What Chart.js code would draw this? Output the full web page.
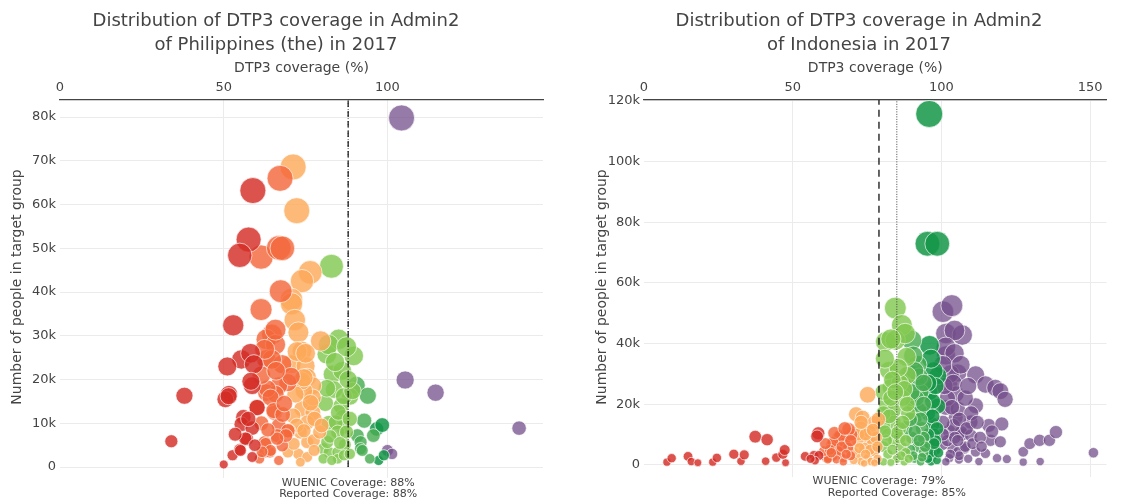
<!DOCTYPE html>
<html><head><meta charset="utf-8">
<script src="https://cdn.jsdelivr.net/npm/chart.js@4/dist/chart.umd.min.js"></script>
<style>
html,body{margin:0;padding:0;background:#fff;overflow:hidden}
#wrap{position:relative;width:1121px;height:501px}
.pane{position:absolute;top:0;height:501px}
</style></head><body>
<div id="wrap">
<div class="pane" style="left:0;width:560px"><canvas id="c1" width="560" height="501"></canvas></div>
<div class="pane" style="left:560px;width:561px"><canvas id="c2" width="561" height="501"></canvas></div>
</div>
<script>
// ---------- Philippines (the) : [coverage %, people in target group (thousands)] ----------
const phRed = [[58.9,63.2],[57.6,52],[54.9,48.4],[52.9,32.4],[55.4,24.6],[58.2,26],[59.2,23.5],[51.1,23],[58.7,18.6],[58.3,19.6],[51.6,16.7],[50.5,15.5],[38,16.3],[56,11.4],[55.4,9.8],[58.7,8.9],[57.1,6.4],[34,5.9],[50,0.6],[52.7,2.7],[54.9,4],[58.7,2.3],[60.2,13.6],[56.6,6.5],[55.1,3.8],[51.5,16.2],[53.5,7.5],[57.5,11],[59.5,5]];
const phOrangeRed = [[67.2,66],[61.4,48],[66.8,50.1],[67.9,50],[67.4,40.2],[61.4,36],[64.7,30.3],[63,29.2],[65.8,28],[63,24.6],[67.9,23.5],[69.6,19.3],[66.8,18.6],[63,17],[65.8,16.7],[60.1,13.6],[65.5,12.5],[66.8,9.5],[69.6,8.3],[62.5,5.7],[66.3,7.2],[62.5,3.4],[60.9,1.9],[66.8,1.5],[64.1,3.4],[67.9,4.9],[69,7.2],[64.7,24.6],[62.5,26.9],[65.8,31.4],[63.3,17.9],[64.3,15.9],[65.3,12.9],[62.8,5.3],[66.3,6.5],[64.3,3.8],[61.7,3.5],[70.6,20.7],[68,12],[61.5,10],[63.5,8.5],[68.5,14.5],[61.5,21],[66,22]];
const phLightOrange = [[71.2,68.6],[72.3,58.6],[76.4,44.5],[73.9,42.5],[70.7,38.3],[70.7,37.3],[71.7,33.6],[72.8,30.8],[79.6,28.8],[73.9,26.5],[70.7,23.5],[75,23.1],[75.5,20.5],[77.2,18.6],[73.9,13.3],[71.2,11.7],[77.2,12.5],[75.5,10.2],[73.4,8],[75.5,5.7],[77.5,6.1],[72.8,3],[75.5,2.3],[73.4,1.1],[69.6,3.4],[72.3,9.5],[74.5,8.3],[79.3,8],[77.7,11],[79.9,9.5],[77.2,15.9],[74.5,17.4],[73.9,19.7],[72.4,26.4],[74.5,20.4],[71.9,16.6],[76.5,14.7],[71.4,5.3],[77.6,3.8],[69.9,8.3],[75,26]];
const phLightGreen = [[82.9,45.9],[85.1,29.2],[81.5,25.8],[89.7,25.4],[83.2,21.2],[86.2,22],[88.6,16.1],[81,14.6],[85.9,14],[86.4,11.4],[82.1,10.1],[86.4,9.1],[80.4,4.2],[82.1,3.4],[84.8,3.4],[80.4,1.9],[84.8,1.9],[87,5.1],[84.2,10.2],[84.8,8],[83.7,17.7],[86.7,16.2],[81.6,5.7],[86.7,2.7],[89.3,17.4],[82,28],[87.5,27.5],[84,24],[88,20],[81.5,18],[85,12.5],[88.5,11],[87.5,8],[82.5,7],[83,1.5],[85.5,5.5],[88.5,3]];
const phGreen = [[90.5,18.7],[94,16.3],[90.8,7.2],[91.8,5.7],[92.9,10.6],[91.8,4.2],[94.6,1.9],[95.7,7.2],[92.3,3.8]];
const phDarkGreen = [[96.7,8.7],[98.4,9.6],[97.3,1.5],[98.9,2.7]];
const phPurple = [[104.3,79.8],[105.4,19.9],[114.7,17],[140.2,8.9],[100,3.8],[101.4,3]];
const phWuenic = 88, phReported = 88;
const phTitle = ['Distribution of DTP3 coverage in Admin2', 'of Philippines (the) in 2017'];
const phXTicks = [0, 50, 100];
const phYTicks = [0, 10, 20, 30, 40, 50, 60, 70, 80];
const phYTickLabels = ['0', '10k', '20k', '30k', '40k', '50k', '60k', '70k', '80k'];

// ---------- Indonesia ----------
const idRed = [[7.7,0.9],[9.3,2.2],[14.8,2.8],[15.9,1.1],[18.1,0.7],[23.1,0.9],[24.5,2.3],[30.2,3.5],[32.6,1.2],[33.7,3.3],[37.4,9.3],[41.4,8.3],[40.9,1.2],[44.5,2.4],[46.7,3.5],[47.3,4.9],[47.6,0.7],[54.2,2.8],[57.1,3.1],[58.6,10.4],[58.2,9.4],[58.8,3.1],[57.5,1.4],[56,2]];
const idOrangeRed = [[61.2,2.3],[63.1,6.7],[65.3,8.9],[67.5,7.2],[68.6,5.6],[65.8,4.4],[63.6,2.8],[69.7,10],[62,2.2],[66.9,2.2],[65.9,9.5],[63.5,7.3],[68.8,11.7],[65.3,4.5],[64.7,1.8],[61.8,1.8],[67,1],[69.5,3],[60.5,4.5],[62.5,5],[64,10.5],[66.5,6],[68,3.5],[63,4],[61,7],[67.5,12],[69.5,8]];
const idLightOrange = [[75.2,23.1],[71.3,16.7],[73.5,15.6],[77.4,13.9],[73,12.2],[75.2,8.9],[71.9,7.8],[76.8,7.2],[74.1,5.6],[77.4,4.4],[71.9,3.3],[75.2,2.2],[73,1.1],[76.3,1.1],[70.2,4.4],[78.8,15],[75.9,11],[78,9],[70.5,10.5],[74,0.5],[78.5,2],[72,10],[74.5,10],[77,11.5],[76,5],[72.5,5.5],[78.5,6],[70.5,1.5],[77.5,0.7],[74.5,3.5],[73,14]];
const idLightGreen = [[84.5,51.7],[86.7,46.1],[81.2,40.6],[84.5,41.1],[87.8,43.3],[83,41.5],[88.3,35.6],[82.3,31.1],[88.5,29.5],[82.9,25.5],[86,27],[81.5,20],[84,18],[87,22],[88.8,17],[84,14],[80.5,13],[86,12],[82,10],[84,8],[80.5,6],[86.5,6],[88,4],[82,3.5],[85,2],[80.5,1],[87.5,1],[83,0.8],[85.5,32],[80.5,24],[86,9],[81,35],[83.5,28],[87.5,25],[80.5,17],[83,22],[85,10.5],[88,8],[81.5,8],[83.5,5],[86.5,3],[89,2],[81,11],[84.5,24],[87,14],[82.5,16],[88.5,20]];
const idGreen = [[90,41.1],[89.5,30],[91.5,27],[93,24],[90.5,20],[92.5,18],[91,15],[93.5,12],[90,9],[92,6],[94,4],[91,2],[93,1],[89.5,5],[94,9],[91.5,22],[88,12],[92,33],[90.5,36],[92.5,29],[94,20],[90,24],[93,15],[91,11],[94.5,6],[90.5,3],[92.5,8],[89.5,15],[93.5,2.5],[91,31],[94,27]];
const idDarkGreen = [[95.9,115.7],[95.3,72.9],[98.6,72.9],[96,39.4],[98.8,29.4],[97.5,31],[98.8,19.4],[97.1,13.3],[97.5,10],[96,7],[98,5],[97,3],[96.5,1],[98.5,1.5],[96,24],[95.5,17],[97,21],[98,8],[96.5,35],[98,26],[95.5,27],[97,16],[98.5,12],[95.5,10],[96.5,4],[99,4],[95.5,2],[97.5,7]];
const idPurple = [[100.5,50.5],[103.5,52.5],[101.5,43.3],[107,42.8],[104.4,44.3],[101.5,36.1],[101.5,38.9],[104.4,36.8],[102.6,26.7],[104.8,23.3],[101.5,18.9],[104.8,15.6],[102.6,11.1],[107,10],[103.7,5.6],[102.6,2.2],[105.9,1.7],[100.4,6.7],[105.5,30.3],[111.5,29.7],[114.8,26.5],[118.1,25.4],[119.8,24.3],[121.4,21.6],[111.5,19.5],[105.5,18.4],[109.9,14.1],[115.9,13],[120.3,13.5],[106.6,10.8],[116.5,8.1],[119.8,7.6],[109.9,9.7],[107.7,5.4],[111.5,4.3],[114.8,3.8],[105.5,4.3],[118.7,2.2],[122,1.9],[112.6,1.1],[127.5,4.3],[129.7,7],[133,8.1],[136.3,8.1],[138.5,10.8],[127.5,0.9],[133.2,1.1],[151.1,4],[103,30],[108,22],[110,17],[102,8],[104,13],[108,6],[100.5,33],[102,22],[103.5,19],[100.5,14],[106,15],[101,26],[104.5,9],[106,3],[103,3.5],[100.5,10],[108.5,12],[110.5,7],[113,9],[112,14],[105.5,8],[101.5,1],[109,2],[113.5,6],[117,11],[104,27],[106.5,33],[109,26]];
const idWuenic = 79, idReported = 85;
const idTitle = ['Distribution of DTP3 coverage in Admin2', 'of Indonesia in 2017'];
const idXTicks = [0, 50, 100, 150];
const idYTicks = [0, 20, 40, 60, 80, 100, 120];
const idYTickLabels = ['0', '20k', '40k', '60k', '80k', '100k', '120k'];

const xTitle = 'DTP3 coverage (%)';
const yTitle = 'Number of people in target group';

// ---------- styling ----------
const FONT = '"DejaVu Sans", Verdana, sans-serif';
const COLORS = {
  red: 'rgba(212,45,38,0.82)',
  orangeRed: 'rgba(244,104,60,0.82)',
  lightOrange: 'rgba(253,170,90,0.82)',
  lightGreen: 'rgba(130,200,80,0.82)',
  green: 'rgba(72,172,82,0.82)',
  darkGreen: 'rgba(20,150,70,0.85)',
  purple: 'rgba(115,78,137,0.75)'
};

function bubbleSet(pairs, color, size) {
  return {
    type: 'bubble',
    data: pairs.map(([x, y]) => ({ x, y })),
    backgroundColor: color,
    borderColor: 'rgba(255,255,255,0.65)',
    borderWidth: 1,
    hoverBorderWidth: 1,
    radius: c => c.raw ? Math.min(size.cap, size.a + size.b * Math.sqrt(Math.max(c.raw.y, 0))) : 4,
    order: 1
  };
}
function vline(v, top, dash, width, color) {
  return {
    type: 'line',
    data: [{ x: v, y: 0 }, { x: v, y: top }],
    borderColor: color, borderWidth: width, borderDash: dash,
    pointRadius: 0, fill: false, order: 0
  };
}

const textPlugin = {
  id: 'texts',
  afterDraw(chart, args, o) {
    const ctx = chart.ctx, xs = chart.scales.x, ca = chart.chartArea;
    ctx.save();
    ctx.fillStyle = '#444';
    ctx.textAlign = 'center';
    ctx.textBaseline = 'middle';
    ctx.font = '18px ' + FONT;
    o.title.forEach((t, i) => ctx.fillText(t, o.titleX, 21 + i * 24));
    ctx.font = '14px ' + FONT;
    ctx.fillText(xTitle, (ca.left + ca.right) / 2, 68);
    ctx.save();
    ctx.translate(o.yTitleX, 287);
    ctx.rotate(-Math.PI / 2);
    ctx.fillText(yTitle, 0, 0);
    ctx.restore();
    ctx.font = '11px ' + FONT;
    o.notes.forEach(n => ctx.fillText(n.text, xs.getPixelForValue(n.value), n.y));
    ctx.restore();
  }
};

function makeChart(id, cfg) {
  new Chart(document.getElementById(id), {
    type: 'bubble',
    data: { datasets: cfg.datasets },
    plugins: [textPlugin],
    options: {
      responsive: false, animation: false, devicePixelRatio: 1,
      layout: { padding: { top: 0, left: 0, right: cfg.padRight, bottom: cfg.padBottom } },
      plugins: {
        legend: { display: false }, tooltip: { enabled: false },
        texts: cfg.texts
      },
      scales: {
        x: {
          type: 'linear', position: 'top', min: 0, max: cfg.xMax,
          afterFit: s => { s.height = 100; },
          afterBuildTicks: s => { s.ticks = cfg.xTicks.map(v => ({ value: v })); },
          ticks: { color: '#444', padding: 5, font: { family: FONT, size: 13 } },
          grid: { drawTicks: false, color: c => (c.tick && c.tick.value === 0) ? 'rgba(0,0,0,0)' : '#ebebeb', lineWidth: 1 },
          border: { display: true, color: '#444', width: 1.2 }
        },
        y: {
          type: 'linear', min: cfg.yMin, max: cfg.yMax,
          afterFit: s => { s.width = cfg.yWidth; },
          afterBuildTicks: s => { s.ticks = cfg.yTicks.map(v => ({ value: v })); },
          ticks: {
            color: '#444', padding: 4, font: { family: FONT, size: 13 },
            callback: v => cfg.yLabels[cfg.yTicks.indexOf(v)]
          },
          grid: { drawTicks: false, color: '#ebebeb', lineWidth: 1 },
          border: { display: false }
        }
      }
    }
  });
}

const phSize = { a: 3.5, b: 1.25, cap: 13 };
const idSize = { a: 3, b: 1.1, cap: 13.5 };

makeChart('c1', {
  xMax: 147.5, yMin: -2.5, yMax: 83.9, yWidth: 60, padRight: 17, padBottom: 23,
  xTicks: phXTicks, yTicks: phYTicks, yLabels: phYTickLabels,
  datasets: [
    bubbleSet(phRed, COLORS.red, phSize), bubbleSet(phOrangeRed, COLORS.orangeRed, phSize),
    bubbleSet(phLightOrange, COLORS.lightOrange, phSize), bubbleSet(phLightGreen, COLORS.lightGreen, phSize),
    bubbleSet(phGreen, COLORS.green, phSize), bubbleSet(phDarkGreen, COLORS.darkGreen, phSize),
    bubbleSet(phPurple, COLORS.purple, phSize),
    vline(phWuenic, 83.9, [6, 4], 1.3, '#222'),
    vline(phReported, 83.9, [1, 2], 1, '#444')
  ],
  texts: {
    title: phTitle, titleX: 276, yTitleX: 17,
    notes: [{ text: 'WUENIC Coverage: ' + phWuenic + '%', value: phWuenic, y: 483 },
            { text: 'Reported Coverage: ' + phReported + '%', value: phReported, y: 494 }]
  }
});

makeChart('c2', {
  xMax: 155.5, yMin: -4, yMax: 120.3, yWidth: 84, padRight: 5, padBottom: 24,
  xTicks: idXTicks, yTicks: idYTicks, yLabels: idYTickLabels,
  datasets: [
    bubbleSet(idRed, COLORS.red, idSize), bubbleSet(idOrangeRed, COLORS.orangeRed, idSize),
    bubbleSet(idLightOrange, COLORS.lightOrange, idSize), bubbleSet(idLightGreen, COLORS.lightGreen, idSize),
    bubbleSet(idGreen, COLORS.green, idSize), bubbleSet(idDarkGreen, COLORS.darkGreen, idSize),
    bubbleSet(idPurple, COLORS.purple, idSize),
    vline(idWuenic, 120.3, [7, 5], 1.4, '#222'),
    vline(idReported, 120.3, [1, 1.5], 1, '#444')
  ],
  texts: {
    title: idTitle, titleX: 299, yTitleX: 42,
    notes: [{ text: 'WUENIC Coverage: ' + idWuenic + '%', value: idWuenic, y: 481 },
            { text: 'Reported Coverage: ' + idReported + '%', value: idReported, y: 493 }]
  }
});
</script>
</body></html>
